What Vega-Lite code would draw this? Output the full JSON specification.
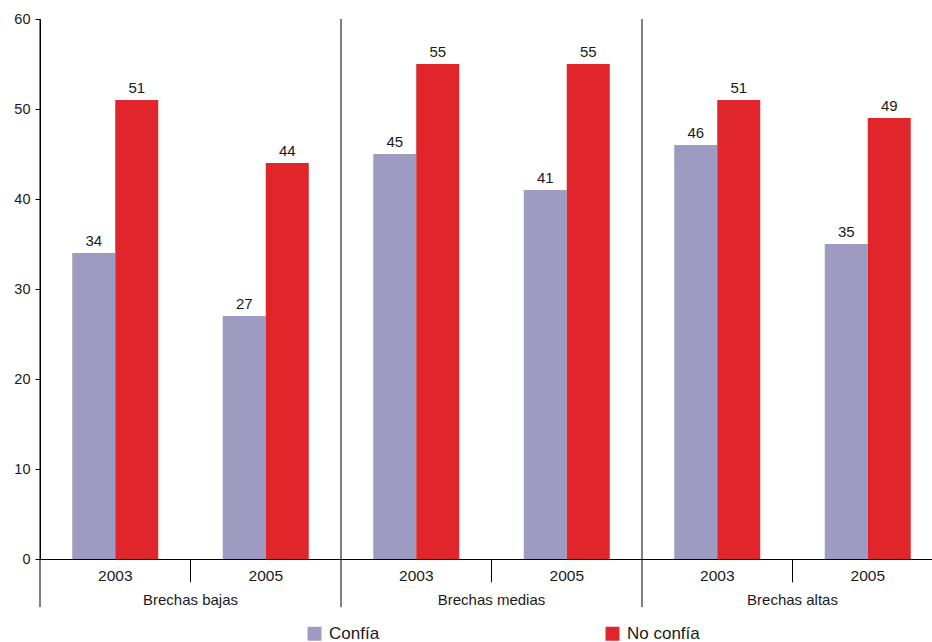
{
  "$schema": "https://vega.github.io/schema/vega-lite/v6.json",
  "autosize": "none",
  "width": 903,
  "height": 540,
  "padding": {"left": 40, "top": 19, "right": 0, "bottom": 83},
  "background": "white",
  "config": {
    "font": "Liberation Sans",
    "view": {"stroke": null},
    "axis": {"grid": false, "domainColor": "#000000", "tickColor": "#000000", "labelColor": "#1a1a1a", "labelFont": "Liberation Sans"}
  },
  "datasets": {
    "valores": [
      {"slot": "Brechas bajas|2003", "grupo": "Brechas bajas", "anio": "2003", "serie": "Confía", "valor": 34},
      {"slot": "Brechas bajas|2003", "grupo": "Brechas bajas", "anio": "2003", "serie": "No confía", "valor": 51},
      {"slot": "Brechas bajas|2005", "grupo": "Brechas bajas", "anio": "2005", "serie": "Confía", "valor": 27},
      {"slot": "Brechas bajas|2005", "grupo": "Brechas bajas", "anio": "2005", "serie": "No confía", "valor": 44},
      {"slot": "Brechas medias|2003", "grupo": "Brechas medias", "anio": "2003", "serie": "Confía", "valor": 45},
      {"slot": "Brechas medias|2003", "grupo": "Brechas medias", "anio": "2003", "serie": "No confía", "valor": 55},
      {"slot": "Brechas medias|2005", "grupo": "Brechas medias", "anio": "2005", "serie": "Confía", "valor": 41},
      {"slot": "Brechas medias|2005", "grupo": "Brechas medias", "anio": "2005", "serie": "No confía", "valor": 55},
      {"slot": "Brechas altas|2003", "grupo": "Brechas altas", "anio": "2003", "serie": "Confía", "valor": 46},
      {"slot": "Brechas altas|2003", "grupo": "Brechas altas", "anio": "2003", "serie": "No confía", "valor": 51},
      {"slot": "Brechas altas|2005", "grupo": "Brechas altas", "anio": "2005", "serie": "Confía", "valor": 35},
      {"slot": "Brechas altas|2005", "grupo": "Brechas altas", "anio": "2005", "serie": "No confía", "valor": 49}
    ],
    "inicios_grupo": [
      {"slot": "Brechas bajas|2003"},
      {"slot": "Brechas medias|2003"},
      {"slot": "Brechas altas|2003"}
    ],
    "segundo_anio": [
      {"slot": "Brechas bajas|2005", "grupo": "Brechas bajas"},
      {"slot": "Brechas medias|2005", "grupo": "Brechas medias"},
      {"slot": "Brechas altas|2005", "grupo": "Brechas altas"}
    ]
  },
  "layer": [
    {
      "data": {"name": "valores"},
      "mark": {"type": "bar"},
      "encoding": {
        "x": {
          "field": "slot", "type": "nominal",
          "scale": {"domain": ["Brechas bajas|2003", "Brechas bajas|2005", "Brechas medias|2003", "Brechas medias|2005", "Brechas altas|2003", "Brechas altas|2005"], "paddingInner": 0, "paddingOuter": 0},
          "axis": {"title": null, "labelExpr": "split(datum.label, '|')[1]", "labelAngle": 0, "ticks": false, "labelFontSize": 15.5, "labelPadding": 9, "domainWidth": 1}
        },
        "xOffset": {"field": "serie", "type": "nominal", "scale": {"paddingInner": 0, "paddingOuter": 0.75}},
        "y": {
          "field": "valor", "type": "quantitative",
          "scale": {"domain": [0, 60], "nice": false, "zero": true},
          "axis": {"title": null, "values": [0, 10, 20, 30, 40, 50, 60], "tickSize": 5, "labelFontSize": 14.5, "labelPadding": 5}
        },
        "color": {
          "field": "serie", "type": "nominal",
          "scale": {"domain": ["Confía", "No confía"], "range": ["#9e9bc3", "#e1262b"]},
          "legend": {
            "title": null, "orient": "none", "direction": "horizontal",
            "legendX": 266, "legendY": 606,
            "symbolType": "square", "symbolSize": 196, "symbolStrokeWidth": 0,
            "labelFontSize": 17, "labelColor": "#1a1a1a", "columnPadding": 224, "symbolOffset": 0, "labelOffset": 6
          }
        }
      }
    },
    {
      "data": {"name": "valores"},
      "mark": {"type": "text", "baseline": "alphabetic", "dy": -7, "fontSize": 15, "color": "#1a1a1a"},
      "encoding": {
        "x": {"field": "slot", "type": "nominal"},
        "xOffset": {"field": "serie", "type": "nominal"},
        "y": {"field": "valor", "type": "quantitative"},
        "text": {"field": "valor", "type": "quantitative"}
      }
    },
    {
      "data": {"name": "segundo_anio"},
      "mark": {"type": "rule", "color": "#000000", "strokeWidth": 1},
      "encoding": {
        "x": {"field": "slot", "type": "nominal", "bandPosition": 0},
        "y": {"datum": 0},
        "y2": {"datum": -2.6}
      }
    },
    {
      "data": {"name": "inicios_grupo"},
      "mark": {"type": "rule", "color": "#000000", "strokeWidth": 1},
      "encoding": {
        "x": {"field": "slot", "type": "nominal", "bandPosition": 0},
        "y": {"datum": 60},
        "y2": {"datum": -5.35}
      }
    },
    {
      "data": {"name": "segundo_anio"},
      "mark": {"type": "text", "baseline": "middle", "fontSize": 15, "color": "#1a1a1a"},
      "encoding": {
        "x": {"field": "slot", "type": "nominal", "bandPosition": 0},
        "y": {"datum": -4.55},
        "text": {"field": "grupo", "type": "nominal"}
      }
    }
  ]
}
